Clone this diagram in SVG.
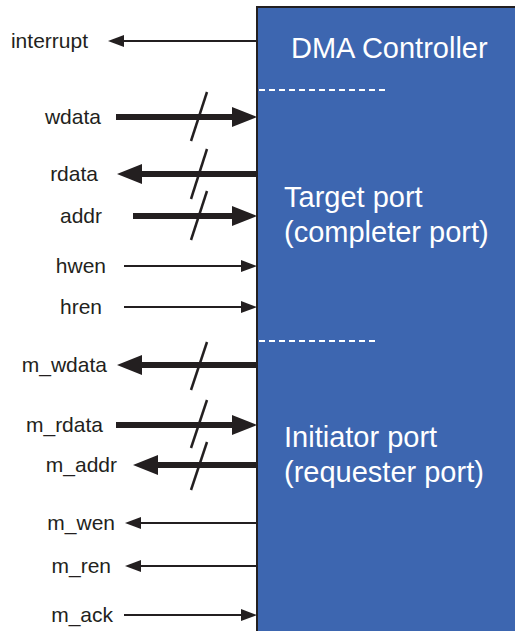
<svg xmlns="http://www.w3.org/2000/svg" width="515" height="631" viewBox="0 0 515 631">
<style>
.lbl{font-family:"Liberation Sans",Arial,sans-serif;font-size:21px;fill:#231f20;text-anchor:end}
.big{font-family:"Liberation Sans",Arial,sans-serif;font-size:29px;fill:#ffffff}
.thin{stroke:#231f20;stroke-width:2;fill:none}
.thick{stroke:#231f20;stroke-width:6;fill:none}
.slash{stroke:#231f20;stroke-width:2.5;fill:none}
.dash{stroke:#ffffff;stroke-width:2;stroke-dasharray:6 4;fill:none}
</style>
<defs>
<marker id="ahThick" markerUnits="userSpaceOnUse" markerWidth="25" markerHeight="20" refX="0" refY="10" orient="auto" viewBox="0 0 25 20">
<path d="M0,0 L25,10 L0,20 Z" fill="#231f20"/>
</marker>
<marker id="ahThin" markerUnits="userSpaceOnUse" markerWidth="16" markerHeight="12" refX="0" refY="6" orient="auto" viewBox="0 0 16 12">
<path d="M0,0 L16,6 L0,12 Z" fill="#231f20"/>
</marker>
</defs>
<g id="dma-controller">
<rect x="257" y="7" width="270" height="640" fill="#3d66b0" stroke="#231f20" stroke-width="2"/>
<text class="big" x="291" y="58">DMA Controller</text>
<line class="dash" x1="259" y1="90" x2="387" y2="90"/>
<text class="big" x="284" y="207">Target port</text>
<text class="big" x="284" y="242">(completer port)</text>
<line class="dash" x1="259" y1="341" x2="378" y2="341"/>
<text class="big" x="284" y="447">Initiator port</text>
<text class="big" x="284" y="482">(requester port)</text>
</g>
<g id="labels">
<text class="lbl" x="88" y="48">interrupt</text>
<text class="lbl" x="101" y="124">wdata</text>
<text class="lbl" x="98" y="181">rdata</text>
<text class="lbl" x="102" y="223">addr</text>
<text class="lbl" x="106" y="273">hwen</text>
<text class="lbl" x="102" y="314">hren</text>
<text class="lbl" x="107" y="372">m_wdata</text>
<text class="lbl" x="103" y="432">m_rdata</text>
<text class="lbl" x="117" y="472">m_addr</text>
<text class="lbl" x="115" y="530">m_wen</text>
<text class="lbl" x="111" y="573">m_ren</text>
<text class="lbl" x="113" y="622">m_ack</text>
</g>
<g id="connectors">
<line class="thin" x1="257" y1="41" x2="124" y2="41" marker-end="url(#ahThin)"/>
<line class="thick" x1="116" y1="117" x2="232" y2="117" marker-end="url(#ahThick)"/>
<line class="slash" x1="207" y1="92" x2="191" y2="141"/>
<line class="thick" x1="257" y1="174" x2="142" y2="174" marker-end="url(#ahThick)"/>
<line class="slash" x1="207" y1="149" x2="191" y2="199"/>
<line class="thick" x1="133" y1="216" x2="232" y2="216" marker-end="url(#ahThick)"/>
<line class="slash" x1="207" y1="191" x2="191" y2="240"/>
<line class="thin" x1="124" y1="266" x2="241" y2="266" marker-end="url(#ahThin)"/>
<line class="thin" x1="124" y1="307" x2="241" y2="307" marker-end="url(#ahThin)"/>
<line class="thick" x1="257" y1="365" x2="142" y2="365" marker-end="url(#ahThick)"/>
<line class="slash" x1="207" y1="342" x2="191" y2="390"/>
<line class="thick" x1="116" y1="425" x2="232" y2="425" marker-end="url(#ahThick)"/>
<line class="slash" x1="207" y1="400" x2="191" y2="448"/>
<line class="thick" x1="257" y1="465" x2="158" y2="465" marker-end="url(#ahThick)"/>
<line class="slash" x1="207" y1="442" x2="191" y2="490"/>
<line class="thin" x1="257" y1="523" x2="141" y2="523" marker-end="url(#ahThin)"/>
<line class="thin" x1="257" y1="566" x2="141" y2="566" marker-end="url(#ahThin)"/>
<line class="thin" x1="124" y1="615" x2="241" y2="615" marker-end="url(#ahThin)"/>
</g>
</svg>
